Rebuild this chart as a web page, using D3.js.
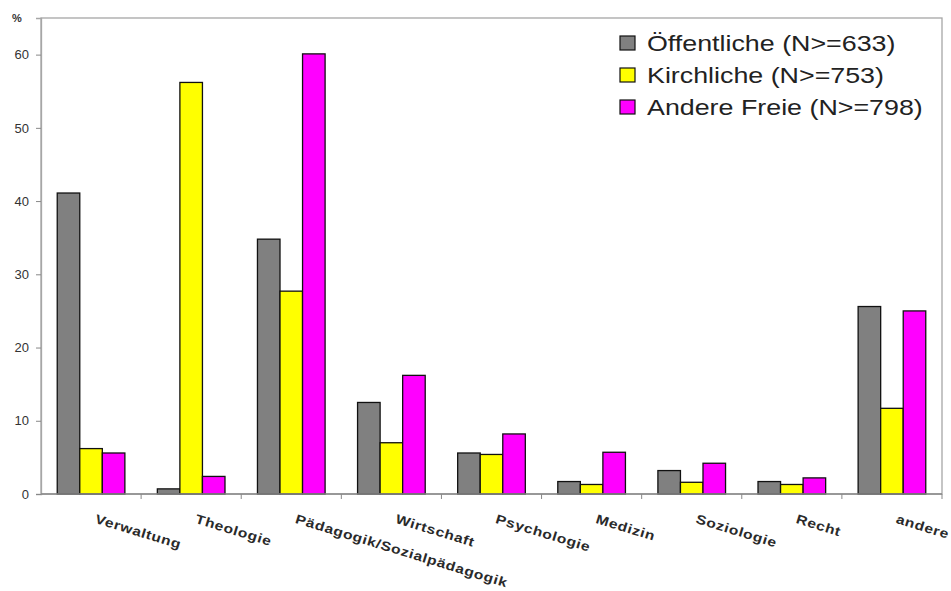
<!DOCTYPE html>
<html>
<head>
<meta charset="utf-8">
<script src="https://cdn.jsdelivr.net/npm/d3@7"></script>
<style>
  html, body { margin: 0; padding: 0; background: #fff; }
  svg { display: block; font-family: "Liberation Sans", Arial, sans-serif; }
</style>
</head>
<body>
<svg id="chart" width="951" height="591"></svg>
<script>
// Studienfächer nach Trägerschaft (Anteile in %)
const categories = ["Verwaltung", "Theologie", "Pädagogik/Sozialpädagogik", "Wirtschaft",
  "Psychologie", "Medizin", "Soziologie", "Recht", "andere"];
const seriesNames = ["Öffentliche (N>=633)", "Kirchliche (N>=753)", "Andere Freie (N>=798)"];
const oeffentliche = [41.1, 0.7, 34.8, 12.5, 5.6, 1.7, 3.2, 1.7, 25.6];
const kirchliche  = [6.2, 56.2, 27.7, 7.0, 5.4, 1.3, 1.6, 1.3, 11.7];
const andereFreie = [5.6, 2.4, 60.1, 16.2, 8.2, 5.7, 4.2, 2.2, 25.0];
const colors = ["#808080", "#ffff00", "#ff00ff"];
const yTicks = [0, 10, 20, 30, 40, 50, 60];

const seriesValues = [oeffentliche, kirchliche, andereFreie];

const W = 951, H = 591;
const margin = { top: 18, right: 9, bottom: 97, left: 41 };
const textStretch = 1.2;   // text is drawn slightly wide
const svg = d3.select("#chart");

const x0 = d3.scaleBand().domain(categories)
  .range([margin.left, W - margin.right]).paddingInner(0).paddingOuter(0);
const x1 = d3.scaleBand().domain(seriesNames)
  .range([0, x0.bandwidth()]).paddingInner(0).paddingOuter(0.72);
const y = d3.scaleLinear().domain([0, 65]).range([H - margin.bottom, margin.top]);

// plot frame
svg.append("rect")
  .attr("x", margin.left).attr("y", margin.top)
  .attr("width", W - margin.right - margin.left)
  .attr("height", H - margin.bottom - margin.top)
  .attr("fill", "none").attr("stroke", "#a6a6a6").attr("stroke-width", 1.3);

// bars
const groups = svg.append("g").selectAll("g")
  .data(categories).join("g")
  .attr("transform", d => `translate(${x0(d)},0)`);

groups.selectAll("rect")
  .data((d, i) => seriesNames.map((s, j) => ({ s, j, v: seriesValues[j][i] })))
  .join("rect")
  .attr("x", d => x1(d.s))
  .attr("y", d => y(d.v))
  .attr("width", x1.bandwidth())
  .attr("height", d => y(0) - y(d.v))
  .attr("fill", d => colors[d.j])
  .attr("stroke", "#111")
  .attr("stroke-width", 1.3);

// y axis
const yAxis = svg.append("g")
  .attr("transform", `translate(${margin.left},0)`)
  .call(d3.axisLeft(y).tickValues(yTicks).tickSize(5).tickPadding(7));
yAxis.select(".domain").attr("stroke", "#a6a6a6").attr("stroke-width", 1.3);
yAxis.selectAll(".tick line").attr("stroke", "#888");
yAxis.selectAll(".tick text").attr("font-size", 13).attr("fill", "#333")
  .attr("font-family", "Liberation Sans, Arial, sans-serif");

svg.append("text")
  .attr("x", 17).attr("y", 22)
  .attr("font-size", 11).attr("font-weight", "bold").attr("fill", "#333")
  .attr("text-anchor", "middle")
  .text("%");

// x axis
const xAxis = svg.append("g")
  .attr("transform", `translate(0,${H - margin.bottom})`);
xAxis.append("line")
  .attr("x1", margin.left).attr("x2", W - margin.right)
  .attr("stroke", "#888").attr("stroke-width", 1.3);
xAxis.selectAll("line.tk")
  .data(categories.slice(1).concat(["_end"]))
  .join("line").attr("class", "tk")
  .attr("x1", d => d === "_end" ? x0.range()[1] : x0(d))
  .attr("x2", d => d === "_end" ? x0.range()[1] : x0(d))
  .attr("y1", 0).attr("y2", 5)
  .attr("stroke", "#888");

svg.append("g").selectAll("text")
  .data(categories).join("text")
  .attr("transform", d => `translate(${x0(d) + x0.bandwidth() / 2 + 6},${H - margin.bottom + 20}) rotate(17) scale(${textStretch},1)`)
  .attr("dy", "0.71em")
  .attr("font-size", 13)
  .attr("font-weight", "bold")
  .attr("letter-spacing", "0.5px")
  .attr("fill", "#2a2a2a")
  .text(d => d);

// legend
const legend = svg.append("g").selectAll("g")
  .data(seriesNames).join("g")
  .attr("transform", (d, i) => `translate(620,${43 + i * 32})`);
legend.append("rect")
  .attr("x", 0).attr("y", -7).attr("width", 15).attr("height", 14)
  .attr("fill", (d, i) => colors[i]).attr("stroke", "#111").attr("stroke-width", 1.2);
legend.append("text")
  .attr("transform", `translate(27,0) scale(1.22,1)`)
  .attr("dy", "0.36em")
  .attr("font-size", 22).attr("fill", "#222")
  .text(d => d);
</script>
</body>
</html>
